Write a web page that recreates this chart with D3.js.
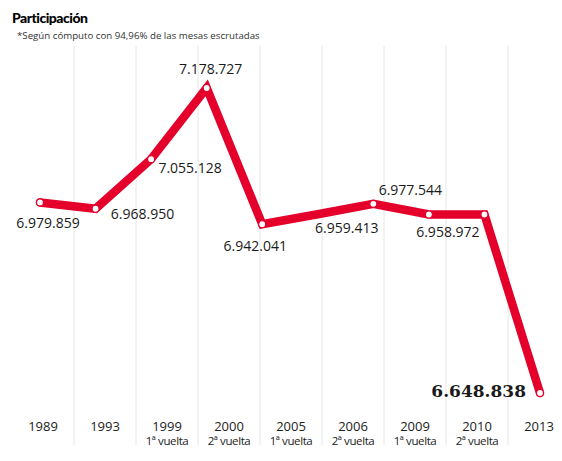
<!DOCTYPE html>
<html>
<head>
<meta charset="utf-8">
<script src="https://cdn.jsdelivr.net/npm/d3@7"></script>
<style>
  body { margin: 0; background: #fff; }
  svg { display: block; }
</style>
</head>
<body>
<svg id="chart"></svg>
<script>
// election rounds shown on the axis
const years = ["1989", "1993", "1999", "2000", "2005", "2006", "2009", "2010", "2013"]
const rounds = ["", "", "1ª vuelta", "2ª vuelta", "1ª vuelta", "2ª vuelta", "1ª vuelta", "2ª vuelta", ""]
const votes = [6979859, 6968950, 7055128, 7178727, 6942041, 6959413, 6977544, 6958972, 6648838]
const voteLabels = ["6.979.859", "6.968.950", "7.055.128", "7.178.727", "6.942.041", "6.959.413", "6.977.544", "6.958.972", "6.648.838"]

// the printed line holds the 2010 level over two steps before the 2013 drop
const lineVotes = [6979859, 6968950, 7055128, 7178727, 6942041, 6959413, 6977544, 6958972, 6958972, 6648838]
const labelSlot = [0, 1, 2, 3, 4, 5, 6, 7, 9]
const dotSlots = [0, 1, 2, 3, 4, 6, 7, 8, 9]

// label offsets from their point (layout only)
const labelOffset = [[8, 26], [47, 10], [39, 14], [4, -14], [-7, 27], [29, 19], [37, -9], [19, 23], [-14, 4]]

const width = 562, height = 461
const red = "#e4002b"

const svg = d3.select("#chart")
    .attr("width", width)
    .attr("height", height)

// title + note
svg.append("text")
    .attr("x", 12)
    .attr("y", 23)
    .attr("font-family", "Lato, sans-serif")
    .attr("font-weight", 900)
    .attr("font-size", 14)
    .attr("letter-spacing", -0.5)
    .attr("fill", "#000")
    .text("Participación")

svg.append("text")
    .attr("x", 17)
    .attr("y", 39)
    .attr("font-family", "'Open Sans', sans-serif")
    .attr("font-size", 9.7)
    .attr("fill", "#333")
    .text("*Según cómputo con 94,96% de las mesas escrutadas")

// scales
const xBand = d3.scaleBand()
    .domain(years)
    .range([12, 570])
    .padding(0)

const xLine = d3.scalePoint()
    .domain(d3.range(lineVotes.length))
    .range([40, 540])

const yScale = d3.scaleLinear()
    .domain([6648838, 7178727])
    .range([393, 88])

// vertical separators between columns
svg.append("g")
    .selectAll("line")
    .data(years.slice(1))
    .enter()
    .append("line")
        .attr("x1", d => xBand(d))
        .attr("x2", d => xBand(d))
        .attr("y1", 46)
        .attr("y2", 445)
        .attr("stroke", "#e6e6e6")
        .attr("stroke-width", 1)

// axis labels
const xAxis = svg.append("g")
    .attr("transform", "translate(0, 431)")
    .call(d3.axisBottom(xBand).tickSize(0).tickPadding(0))

xAxis.select(".domain").remove()
xAxis.selectAll(".tick text").remove()

xAxis.selectAll(".tick")
    .append("text")
        .attr("text-anchor", "middle")
        .attr("font-family", "'Open Sans', sans-serif")
        .attr("font-size", 13)
        .attr("fill", "#222")
        .text(d => d)

xAxis.selectAll(".tick")
    .append("text")
        .attr("y", 14)
        .attr("text-anchor", "middle")
        .attr("font-family", "'Open Sans', sans-serif")
        .attr("font-size", 11.5)
        .attr("letter-spacing", -0.4)
        .attr("fill", "#222")
        .text((d, i) => rounds[i])

// the line
const line = d3.line()
    .x((d, i) => xLine(i))
    .y(d => yScale(d))

svg.append("path")
    .datum(lineVotes)
    .attr("d", line)
    .attr("fill", "none")
    .attr("stroke", red)
    .attr("stroke-width", 8.5)
    .attr("stroke-linejoin", "miter")
    .attr("stroke-linecap", "round")

svg.append("g")
    .selectAll("circle")
    .data(dotSlots)
    .enter()
    .append("circle")
        .attr("cx", d => xLine(d))
        .attr("cy", d => yScale(lineVotes[d]))
        .attr("r", 3.5)
        .attr("fill", "#fff")
        .attr("stroke", red)
        .attr("stroke-width", 1.2)

// value labels
svg.append("g")
    .selectAll("text")
    .data(votes)
    .enter()
    .append("text")
        .attr("x", (d, i) => xLine(labelSlot[i]) + labelOffset[i][0])
        .attr("y", (d, i) => yScale(d) + labelOffset[i][1])
        .attr("text-anchor", (d, i) => i == votes.length - 1 ? "end" : "middle")
        .attr("font-family", (d, i) => i == votes.length - 1 ? "'DejaVu Serif', serif" : "'Open Sans', sans-serif")
        .attr("font-weight", (d, i) => i == votes.length - 1 ? 700 : 400)
        .attr("font-size", (d, i) => i == votes.length - 1 ? 17 : 14)
        .attr("fill", "#1a1a1a")
        .text((d, i) => voteLabels[i])
</script>
</body>
</html>
